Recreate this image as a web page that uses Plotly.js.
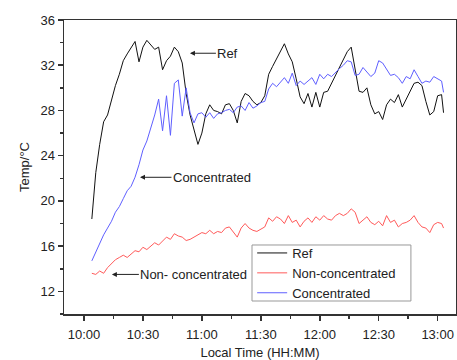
<!DOCTYPE html>
<html><head><meta charset="utf-8">
<script src="https://cdn.plot.ly/plotly-3.0.1.min.js"></script>
<style>html,body{margin:0;padding:0;background:#fff}#chart{width:457px;height:360px}</style>
</head><body><div id="chart"></div>
<script>
const timeLabels = [
"10:04","10:06","10:08","10:10","10:12","10:14","10:16","10:18","10:20","10:22","10:24","10:26","10:28","10:30","10:32","10:34","10:36","10:38","10:40","10:42","10:44","10:46","10:48","10:50","10:52","10:54","10:56","10:58",
"11:00","11:02","11:04","11:06","11:08","11:10","11:12","11:14","11:16","11:18","11:20","11:22","11:24","11:26","11:28","11:30","11:32","11:34","11:36","11:38","11:40","11:42","11:44","11:46","11:48","11:50","11:52","11:54","11:56","11:58",
"12:00","12:02","12:04","12:06","12:08","12:10","12:12","12:14","12:16","12:18","12:20","12:22","12:24","12:26","12:28","12:30","12:32","12:34","12:36","12:38","12:40","12:42","12:44","12:46","12:48","12:50","12:52","12:54","12:56","12:58",
"13:00","13:02","13:03"];

const refTemp = [
18.4,22.5,25.0,27.0,27.6,28.9,30.2,31.2,32.4,33.0,33.5,34.1,32.3,33.6,34.2,33.8,33.4,33.6,31.6,32.4,32.8,33.6,33.2,32.2,29.5,27.6,26.3,25.0,
26.0,27.7,28.5,28.0,27.9,27.7,28.5,28.6,28.0,26.9,28.8,29.5,29.3,28.8,28.5,28.7,29.3,31.2,31.9,32.6,33.2,33.9,33.0,32.3,30.8,29.2,28.6,29.5,28.3,29.6,
28.3,29.6,29.7,30.4,31.0,31.8,32.4,33.2,33.6,31.6,29.7,29.6,30.0,28.5,27.7,27.9,27.2,28.5,29.0,28.7,29.4,28.3,29.0,29.6,30.4,30.5,30.2,28.8,27.6,27.9,
29.3,29.4,27.8];

const nonConcTemp = [
13.6,13.5,13.8,13.6,14.1,14.5,14.8,15.0,15.2,15.0,15.3,15.6,15.5,15.9,15.7,16.0,16.3,16.1,16.5,16.8,16.6,17.1,16.9,16.8,16.5,16.6,16.8,17.0,
17.2,17.1,17.4,17.1,17.3,17.2,17.6,17.7,17.3,16.8,17.6,18.0,17.6,17.4,17.3,17.5,17.7,18.5,18.2,18.6,18.4,18.0,18.7,18.1,18.3,17.7,18.2,18.5,18.1,18.6,
18.3,18.7,18.4,18.3,18.7,18.9,18.7,18.9,19.3,19.0,18.0,18.3,18.6,18.1,17.9,18.2,17.8,18.7,18.1,18.3,17.7,18.0,18.1,18.3,18.7,18.1,17.7,17.6,17.2,17.9,
18.1,18.0,17.6];

const concTemp = [
14.7,15.5,16.2,17.0,17.6,18.2,19.0,19.5,20.2,20.9,21.3,22.1,23.2,24.5,25.3,26.4,27.6,29.0,26.2,29.3,25.8,30.4,30.7,27.5,30.0,27.8,26.9,27.7,
27.8,27.4,27.8,27.3,27.7,27.8,28.0,28.1,27.8,28.3,28.4,28.0,28.7,28.2,28.4,28.7,28.8,29.9,30.4,30.1,30.5,30.9,30.4,31.3,30.2,30.6,30.3,30.6,30.9,30.3,
31.2,30.8,31.2,31.0,31.4,31.7,32.0,32.4,32.3,31.1,31.2,31.8,31.4,31.0,31.3,32.4,32.2,31.7,31.1,31.2,30.9,30.4,31.0,30.8,31.6,31.0,30.4,30.6,30.5,31.0,
30.8,30.6,29.6];

const seriesNames = ["Ref","Non-concentrated","Concentrated"];
const xTicks = ["10:00","10:30","11:00","11:30","12:00","12:30","13:00"];
const yTicks = [12,16,20,24,28,32,36];

const day = "2000-01-01 ";
const xs = timeLabels.map(t => day + t);

const font = "Liberation Sans, Arial, sans-serif";
const traces = [
  {x: xs, y: refTemp, name: seriesNames[0], mode: "lines", line: {color: "#111111", width: 1}},
  {x: xs, y: nonConcTemp, name: seriesNames[1], mode: "lines", line: {color: "#ff5a5a", width: 1}},
  {x: xs, y: concTemp, name: seriesNames[2], mode: "lines", line: {color: "#5f5fff", width: 1}}
];

const layout = {
  width: 457, height: 360,
  margin: {l: 64, r: 1, t: 20, b: 46},
  paper_bgcolor: "#fff", plot_bgcolor: "#fff",
  font: {family: font, size: 13, color: "#222"},
  showlegend: true,
  legend: {x: 0.48, y: 0.2585, xanchor: "left", yanchor: "top", borderwidth: 0,
           bgcolor: "rgba(0,0,0,0)", font: {size: 13}, itemwidth: 30, tracegroupgap: 0},
  shapes: [
    {type: "rect", xref: "paper", yref: "paper", x0: 0.4796, x1: 0.885, y0: 0.0442, y1: 0.2347,
     line: {color: "#999", width: 1}, fillcolor: "rgba(0,0,0,0)", layer: "above"}
  ],
  xaxis: {
    type: "date", range: [day + "09:49:50", day + "13:09:20"],
    tickvals: xTicks.map(t => day + t), ticktext: xTicks,
    ticks: "outside", ticklen: 5, tickwidth: 1.5, tickcolor: "#333", ticklabelstandoff: 3,
    minor: {dtick: 15*60*1000, tick0: day + "10:00", ticks: "outside", ticklen: 3, tickcolor: "#333", showgrid: false},
    showgrid: false, zeroline: false,
    showline: true, linecolor: "#333", linewidth: 1.5, mirror: true,
    title: {text: "Local Time (HH:MM)", font: {size: 13}, standoff: 8},
    tickfont: {size: 13}
  },
  yaxis: {
    range: [10, 36], tickvals: yTicks,
    ticks: "outside", ticklen: 5, tickwidth: 1.5, tickcolor: "#333",
    minor: {dtick: 2, tick0: 10, ticks: "outside", ticklen: 3, tickcolor: "#333", showgrid: false},
    showgrid: false, zeroline: false,
    showline: true, linecolor: "#333", linewidth: 1.5, mirror: true,
    title: {text: "Temp/°C", font: {size: 13}, standoff: 8},
    tickfont: {size: 13}
  },
  annotations: [
    {x: day + "10:53:55", y: 33.06, xref: "x", yref: "y", text: "Ref", showarrow: true,
     ax: 38, ay: 0, arrowhead: 2, arrowsize: 1, arrowwidth: 1, arrowcolor: "#222", font: {size: 13}},
    {x: day + "10:28:30", y: 22.09, xref: "x", yref: "y", text: "Concentrated", showarrow: true,
     ax: 72, ay: 0, arrowhead: 2, arrowsize: 1, arrowwidth: 1, arrowcolor: "#222", font: {size: 13}},
    {x: day + "10:14:12", y: 13.5, xref: "x", yref: "y", text: "Non- concentrated", showarrow: true,
     ax: 82, ay: 0, arrowhead: 2, arrowsize: 1, arrowwidth: 1, arrowcolor: "#222", font: {size: 13}}
  ]
};

Plotly.newPlot("chart", traces, layout, {displayModeBar: false, staticPlot: true});
</script>
</body></html>
